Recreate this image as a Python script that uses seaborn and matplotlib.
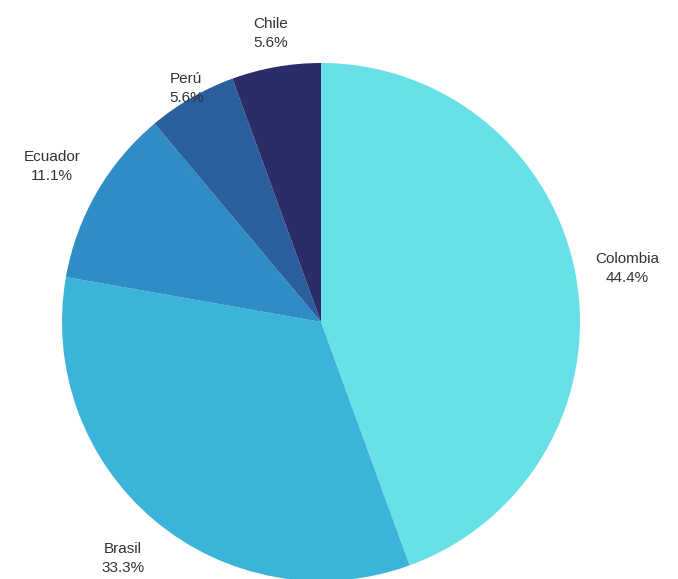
import numpy as np
import seaborn as sns
import matplotlib
import matplotlib.pyplot as plt

matplotlib.use('Agg')

# data
countries = ['Colombia', 'Brasil', 'Ecuador', 'Perú', 'Chile']
counts = [8, 6, 2, 1, 1]
colors = ['#67e1e7', '#3cb3d8', '#2d8dc4', '#2b5e9c', '#2b2e66']
label_dist = [1.20, 1.19, 1.20, 1.04, 1.13]

sns.set_theme(style='white')
plt.rcParams['font.family'] = ['Liberation Sans', 'DejaVu Sans']

fig = plt.figure(figsize=(6.78, 5.79), dpi=100)
ax = fig.add_axes([0, 0, 1, 1])

cx, cy, r = 321, -322, 259
wedges, _ = ax.pie(counts, colors=colors, startangle=90, counterclock=False,
                   center=(cx, cy), radius=r, frame=True,
                   wedgeprops={'linewidth': 0})
ax.set_xlim(0, 678)
ax.set_ylim(-579, 0)
ax.set_aspect('equal')
ax.axis('off')

total = sum(counts)
for w, name, n, d in zip(wedges, countries, counts, label_dist):
    mid = np.deg2rad((w.theta1 + w.theta2) / 2)
    x = cx + r * d * np.cos(mid)
    y = cy + r * d * np.sin(mid)
    ax.text(x, y, f'{name}\n{n / total * 100:.1f}%', ha='center', va='center',
            fontsize=11, color='#333333', linespacing=1.45)

plt.savefig('out.png', dpi=100)
plt.close()
